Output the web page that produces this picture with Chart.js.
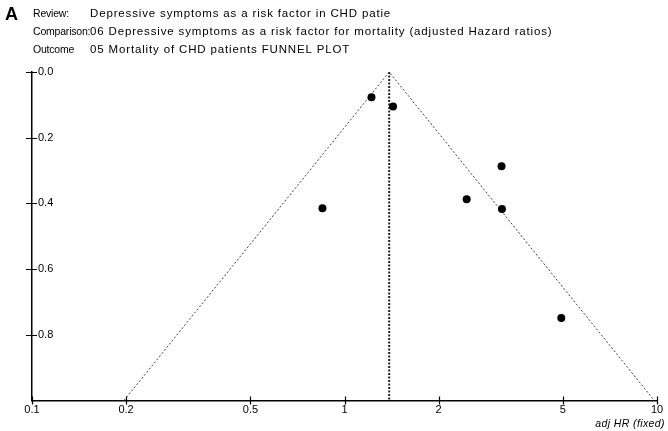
<!DOCTYPE html>
<html>
<head>
<meta charset="utf-8">
<script src="https://cdn.jsdelivr.net/npm/chart.js@4"></script>
<style>
  html, body { margin: 0; padding: 0; background: #fff; }
  #wrap { width: 668px; height: 431px; }
</style>
</head>
<body>
<div id="wrap"><canvas id="funnel" width="668" height="431"></canvas></div>
<script>
// header text
const headerLabels = ["Review:", "Comparison:", "Outcome"];
const headerValues = [
  "Depressive symptoms as a risk factor in CHD patie",
  "06 Depressive symptoms as a risk factor for mortality (adjusted Hazard ratios)",
  "05 Mortality of CHD patients FUNNEL PLOT"
];

// studies: adjusted HR and its SE(log HR)
const studyHR = [1.22, 1.43, 0.85, 3.18, 2.46, 3.19, 4.94];
const studySE = [0.077, 0.105, 0.415, 0.287, 0.387, 0.417, 0.749];

// pooled estimate and the 95% funnel
const pooledHR = 1.39;
const funnelHR = [0.197, 1.39, 9.8];
const funnelSE = [1.0, 0.0, 1.0];

// axis ticks
const xTickValues = [0.1, 0.2, 0.5, 1, 2, 5, 10];
const xTickLabels = ["0.1", "0.2", "0.5", "1", "2", "5", "10"];
const yTickValues = [0, 0.2, 0.4, 0.6, 0.8];
const yTickLabels = ["0.0", "0.2", "0.4", "0.6", "0.8"];

const FONT = 'Arial, "Liberation Sans", sans-serif';

const extras = {
  id: 'extras',
  beforeDraw(chart) {
    const ctx = chart.ctx;
    ctx.save();
    ctx.fillStyle = '#fff';
    ctx.fillRect(0, 0, chart.width, chart.height);
    ctx.restore();
  },
  afterDraw(chart) {
    const ctx = chart.ctx;
    const xs = chart.scales.x, ys = chart.scales.y;
    const area = chart.chartArea;
    ctx.save();
    // tick marks crossing the axes
    ctx.strokeStyle = '#000';
    ctx.lineWidth = 1.2;
    ctx.beginPath();
    yTickValues.forEach(v => {
      const y = Math.round(ys.getPixelForValue(v)) + 0.5;
      ctx.moveTo(area.left - 6, y);
      ctx.lineTo(area.left + 5, y);
    });
    xTickValues.forEach(v => {
      const x = Math.round(xs.getPixelForValue(v)) + 0.5;
      ctx.moveTo(x, area.bottom - 4);
      ctx.lineTo(x, area.bottom + 4);
    });
    ctx.stroke();

    // header
    ctx.fillStyle = '#000';
    ctx.textBaseline = 'alphabetic';
    ctx.font = 'bold 18px ' + FONT;
    ctx.fillText('A', 5, 20);
    headerLabels.forEach((t, i) => {
      const y = 17 + i * 18;
      ctx.letterSpacing = '-0.2px';
      ctx.font = '10.5px ' + FONT;
      ctx.fillText(t, 33, y);
      ctx.letterSpacing = '0.85px';
      ctx.font = '11.5px ' + FONT;
      ctx.fillText(headerValues[i], 90, y);
    });

    // axis caption
    ctx.letterSpacing = '0.4px';
    ctx.font = 'italic 10.5px ' + FONT;
    ctx.textAlign = 'right';
    ctx.fillText('adj HR (fixed)', 665, 427);
    ctx.restore();
  }
};

new Chart(document.getElementById('funnel'), {
  type: 'scatter',
  data: {
    datasets: [
      {
        label: 'Studies',
        data: studyHR.map((hr, i) => ({ x: hr, y: studySE[i] })),
        pointRadius: 4,
        pointBackgroundColor: '#000',
        pointBorderColor: '#000',
        pointBorderWidth: 0,
        order: 0
      },
      {
        label: 'Funnel',
        data: funnelHR.map((hr, i) => ({ x: hr, y: funnelSE[i] })),
        showLine: true,
        borderColor: '#444',
        borderWidth: 1,
        borderDash: [2, 2],
        pointRadius: 0,
        tension: 0,
        order: 1
      },
      {
        label: 'Pooled',
        data: [{ x: pooledHR, y: 0 }, { x: pooledHR, y: 1 }],
        showLine: true,
        borderColor: '#222',
        borderWidth: 2,
        borderDash: [2, 1.5],
        pointRadius: 0,
        order: 2
      }
    ]
  },
  options: {
    responsive: false,
    animation: false,
    devicePixelRatio: 1,
    layout: { padding: { left: 32, top: 72, right: 11, bottom: 0 } },
    plugins: {
      legend: { display: false },
      tooltip: { enabled: false }
    },
    scales: {
      x: {
        type: 'logarithmic',
        position: 'bottom',
        min: 0.1,
        max: 10,
        afterBuildTicks: s => { s.ticks = xTickValues.map(v => ({ value: v })); },
        afterFit: s => { s.height = 30.5; },
        grid: { display: false, drawTicks: false },
        border: { display: true, color: '#000', width: 1.5 },
        ticks: {
          autoSkip: false,
          maxRotation: 0,
          padding: 3,
          color: '#000',
          font: { family: FONT, size: 11 },
          callback: (v, i) => xTickLabels[i]
        }
      },
      y: {
        type: 'linear',
        position: 'left',
        reverse: true,
        min: 0,
        max: 1,
        afterBuildTicks: s => { s.ticks = yTickValues.map(v => ({ value: v })); },
        afterFit: s => { s.width = 0; },
        grid: { display: false, drawTicks: false },
        border: { display: true, color: '#000', width: 1.5 },
        ticks: {
          mirror: true,
          padding: 6,
          color: '#000',
          font: { family: FONT, size: 11 },
          callback: (v, i) => yTickLabels[i]
        }
      }
    }
  },
  plugins: [extras]
});
</script>
</body>
</html>
